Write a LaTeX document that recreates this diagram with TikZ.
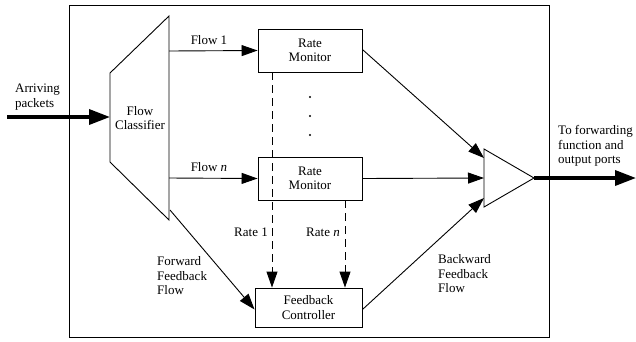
\documentclass[tikz,border=0pt]{standalone}
\usepackage{fontspec}
\setmainfont{Liberation Serif}
\usetikzlibrary{arrows.meta}
\begin{document}
\begin{tikzpicture}[x=1pt,y=-1pt,
  font=\fontsize{13}{14.5}\selectfont,
  box/.style={draw, line width=0.9pt, minimum width=104pt, minimum height=43pt, align=center, inner sep=0pt},
  lbl/.style={align=left, inner sep=0pt},
  arr/.style={-{Triangle[length=16pt,width=11pt]}, line width=0.9pt},
  fat/.style={-{Triangle[length=21pt,width=15pt]}, line width=3.5pt},
  dsh/.style={dash pattern=on 8pt off 5pt}]
\useasboundingbox (0,0) rectangle (636,341);
\draw[line width=0.9pt] (69,5) rectangle (549,337);

% classifier and combiner
\draw[line width=0.9pt] (110,73) -- (169,16) -- (169,220) -- (110,162) -- cycle;
\node[align=center, inner sep=0pt] (cls) at (140,118) {Flow\\Classifier};
\draw[line width=0.9pt] (484,149) -- (534,178) -- (484,207) -- cycle;

\coordinate (src) at (7,117);
\coordinate (in) at (110,117);
\coordinate (c1) at (169,51);
\coordinate (cn) at (169,178);
\coordinate (cf) at (170,210);
\coordinate (t1) at (484,158);
\coordinate (t2) at (484,178);
\coordinate (t3) at (484,198);
\coordinate (tip) at (534,178);
\coordinate (dst) at (636,178);

\node[box] (rm1) at (310,50.5) {Rate\\Monitor};
\node[box] (rmn) at (310,178.5) {Rate\\Monitor};
\node[box, minimum width=107pt, minimum height=39pt] (fc) at (308.5,307.5) {Feedback\\Controller};

\foreach \y in {97,116,135}
  \fill (310,\y) circle (1.2pt);

\path[draw,fat] (src) -- (in);
\path[draw,arr] (c1) -- (rm1.west);
\path[draw,arr] (cn) -- (rmn.west);
\path[draw,arr] (cf) -- ([yshift=-2pt]fc.west);
\path[draw,arr,dsh] ([xshift=-38pt]rm1.south) -- ([xshift=-38pt]rm1.south |- fc.north);
\path[draw,arr,dsh] ([xshift=35pt]rmn.south) -- ([xshift=35pt]rmn.south |- fc.north);
\path[draw,arr] ([yshift=1pt]rm1.east) -- (t1);
\path[draw,arr] (rmn.east) -- (t2);
\path[draw,arr] ([yshift=-2pt]fc.east) -- (t3);
\path[draw,fat] (tip) -- (dst);

\node[lbl, anchor=west] (arrv) at (15,97) {Arriving\\packets};
\node (f1) at (209,40) {Flow 1};
\node (fn) at (209,167) {Flow \textit{n}};
\node (r1) at (251,232) {Rate 1};
\node (rn) at (323,232) {Rate \textit{n}};
\node[lbl, anchor=west] (fwd) at (157,276) {Forward\\Feedback\\Flow};
\node[lbl, anchor=west] (bwd) at (438,274) {Backward\\Feedback\\Flow};
\node[lbl, anchor=west] (out) at (558,146) {To forwarding\\function and\\output ports};
\end{tikzpicture}
\end{document}
